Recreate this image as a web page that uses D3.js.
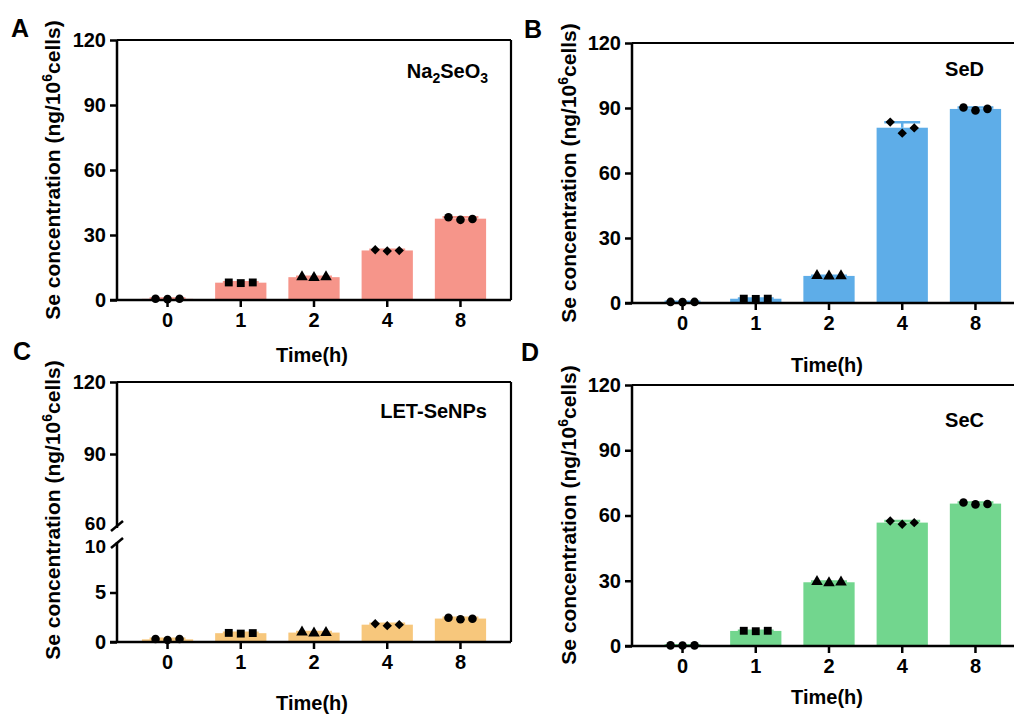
<!DOCTYPE html>
<html>
<head>
<meta charset="utf-8">
<script src="https://cdn.jsdelivr.net/npm/d3@7"></script>
<style>
  html, body { margin: 0; padding: 0; background: #fff; }
  svg { display: block; }
  text { font-family: "Liberation Sans", Arial, sans-serif; font-weight: bold; fill: #000; }
</style>
</head>
<body>
<svg id="chart" width="1014" height="714"></svg>
<script>
// ---------- DATA ----------
const categories = ["0", "1", "2", "4", "8"];
const markerShapes = ["circle", "square", "triangle", "diamond", "circle"];

// replicate values (ng/10^6 cells), three per time point
const na2seo3 = [[0.6, 0.4, 0.6], [8.1, 7.8, 8.1], [10.7, 10.3, 10.6], [23.2, 22.6, 22.8], [38.2, 37.0, 37.4]];
const seD     = [[0.5, 0.4, 0.5], [2.0, 1.9, 2.0], [12.6, 12.4, 12.5], [83.5, 78.4, 80.8], [90.2, 88.9, 89.6]];
const letSeNPs = [[0.3, 0.2, 0.3], [0.92, 0.85, 0.9], [1.0, 0.9, 0.95], [1.85, 1.65, 1.75], [2.45, 2.3, 2.35]];
const seC     = [[0.3, 0.2, 0.3], [7.0, 6.8, 7.0], [29.6, 29.0, 29.3], [57.5, 56.0, 56.7], [66.0, 65.1, 65.3]];

const yTicks = [0, 30, 60, 90, 120];
const yTicksLowC = [0, 5, 10];
const yTicksHighC = [60, 90, 120];

const xTitle = "Time(h)";

// ---------- LAYOUT ----------
const svg = d3.select("#chart");
const mean = a => d3.mean(a);
const sd = a => d3.deviation(a);

const panels = [
  { letter: "A", data: na2seo3, color: "#F6958A", x0: 117, y0: 300, yTop: 40,
    letterPos: [11, 37], titleY: 362, ytx: 53, yty: 170,
    ann: [{t: "Na"}, {t: "2", sub: true}, {t: "SeO"}, {t: "3", sub: true}], annX: 488, annY: 78 },
  { letter: "B", data: seD, color: "#5EADE8", x0: 632, y0: 303, yTop: 43,
    letterPos: [524, 38], titleY: 372, ytx: 569, yty: 173,
    ann: [{t: "SeD"}], annX: 984, annY: 76 },
  { letter: "C", data: letSeNPs, color: "#F7C77C", x0: 117, y0: 642, yTop: 382, broken: true,
    letterPos: [13, 360], titleY: 710, ytx: 53, yty: 510,
    ann: [{t: "LET-SeNPs"}], annX: 487, annY: 418 },
  { letter: "D", data: seC, color: "#72D68E", x0: 632, y0: 646, yTop: 385,
    letterPos: [521, 361], titleY: 704, ytx: 569, yty: 515,
    ann: [{t: "SeC"}], annX: 984, annY: 427 }
];

const plotW = 394;

const diamondType = {
  draw(ctx, size) {
    const r = Math.sqrt(size / 2);
    ctx.moveTo(0, -r); ctx.lineTo(r, 0); ctx.lineTo(0, r); ctx.lineTo(-r, 0); ctx.closePath();
  }
};

function symbolFor(name) {
  switch (name) {
    case "square": return d3.symbol().type(d3.symbolSquare).size(62);
    case "triangle": return d3.symbol().type(d3.symbolTriangle).size(58);
    case "diamond": return d3.symbol().type(diamondType).size(44);
    default: return d3.symbol().type(d3.symbolCircle).size(58);
  }
}

panels.forEach(p => {
  const g = svg.append("g");
  const x1 = p.x0 + plotW;

  const x = d3.scaleBand().domain(categories).range([p.x0, x1])
    .paddingInner(0.3).paddingOuter(0.34);

  let yVal;
  let yLow, yHigh;
  if (p.broken) {
    yLow = d3.scaleLinear().domain([0, 10]).range([p.y0, 543]);
    yHigh = d3.scaleLinear().domain([60, 120]).range([526, p.yTop]);
    yVal = v => v <= 10 ? yLow(v) : yHigh(v);
  } else {
    const y = d3.scaleLinear().domain([0, 120]).range([p.y0, p.yTop]);
    yVal = y;
    p.y = y;
  }

  // bars
  g.selectAll("rect.bar").data(p.data).join("rect")
    .attr("x", (d, i) => x(categories[i]))
    .attr("width", x.bandwidth())
    .attr("y", d => yVal(mean(d)))
    .attr("height", d => p.y0 - yVal(mean(d)))
    .attr("fill", p.color);

  // error bars (mean + SD), same colour as bar
  p.data.forEach((d, i) => {
    const cx = x(categories[i]) + x.bandwidth() / 2;
    const top = yVal(mean(d) + sd(d));
    const m = yVal(mean(d));
    g.append("line").attr("x1", cx).attr("x2", cx).attr("y1", m).attr("y2", top)
      .attr("stroke", p.color).attr("stroke-width", 2.5);
    g.append("line").attr("x1", cx - x.bandwidth() * 0.35).attr("x2", cx + x.bandwidth() * 0.35)
      .attr("y1", top).attr("y2", top).attr("stroke", p.color).attr("stroke-width", 2.5);
  });

  // frame (top and right)
  g.append("line").attr("x1", p.x0).attr("x2", x1).attr("y1", p.yTop).attr("y2", p.yTop)
    .attr("stroke", "#000").attr("stroke-width", 2.2);
  g.append("line").attr("x1", x1).attr("x2", x1).attr("y1", p.yTop).attr("y2", p.y0)
    .attr("stroke", "#000").attr("stroke-width", 2.2);

  // x axis
  const xAxis = g.append("g").attr("transform", `translate(0,${p.y0})`)
    .call(d3.axisBottom(x).tickSize(7).tickSizeOuter(0).tickPadding(6));
  xAxis.select(".domain").remove();
  xAxis.append("line").attr("x1", p.x0 - 7).attr("x2", x1).attr("stroke", "#000").attr("stroke-width", 2.5);
  xAxis.selectAll(".tick line").attr("stroke", "#000").attr("stroke-width", 2.5);
  xAxis.selectAll(".tick text").attr("font-size", 20).attr("font-family", "Liberation Sans, Arial, sans-serif")
    .attr("font-weight", "bold").attr("fill", "#000");

  // y axis
  function styleY(ax) {
    ax.select(".domain").remove();
    ax.selectAll(".tick line").attr("stroke", "#000").attr("stroke-width", 2.5);
    ax.selectAll(".tick text").attr("font-size", 20).attr("font-family", "Liberation Sans, Arial, sans-serif")
      .attr("font-weight", "bold").attr("fill", "#000");
  }
  if (p.broken) {
    const axL = g.append("g").attr("transform", `translate(${p.x0},0)`)
      .call(d3.axisLeft(yLow).tickValues(yTicksLowC).tickSize(7).tickPadding(4));
    styleY(axL);
    const t10 = axL.selectAll(".tick").filter(d => d === 10);
    t10.select("line").remove();
    t10.select("text").attr("dy", "0.32em").attr("y", 3).attr("font-size", 19);
    const axH = g.append("g").attr("transform", `translate(${p.x0},0)`)
      .call(d3.axisLeft(yHigh).tickValues(yTicksHighC).tickSize(7).tickPadding(4));
    styleY(axH);
    const t60 = axH.selectAll(".tick").filter(d => d === 60);
    t60.select("line").remove();
    t60.select("text").attr("y", -3).attr("font-size", 19);
    // axis segments
    g.append("line").attr("x1", p.x0).attr("x2", p.x0).attr("y1", p.y0 + 1).attr("y2", yLow(10) - 1)
      .attr("stroke", "#000").attr("stroke-width", 2.5);
    g.append("line").attr("x1", p.x0).attr("x2", p.x0).attr("y1", yHigh(60) + 2).attr("y2", p.yTop)
      .attr("stroke", "#000").attr("stroke-width", 2.5);
    // break slashes
    [yHigh(60), yLow(10)].forEach(yy => {
      g.append("line").attr("x1", p.x0 - 6).attr("x2", p.x0 + 6).attr("y1", yy + 5).attr("y2", yy - 5)
        .attr("stroke", "#000").attr("stroke-width", 2.5);
    });
  } else {
    const ax = g.append("g").attr("transform", `translate(${p.x0},0)`)
      .call(d3.axisLeft(p.y).tickValues(yTicks).tickSize(7).tickPadding(4));
    styleY(ax);
    g.append("line").attr("x1", p.x0).attr("x2", p.x0).attr("y1", p.y0 + 1).attr("y2", p.yTop)
      .attr("stroke", "#000").attr("stroke-width", 2.5);
  }

  // points
  const offsets = [-12, 0, 12];
  p.data.forEach((d, i) => {
    const cx = x(categories[i]) + x.bandwidth() / 2;
    const sym = symbolFor(markerShapes[i]);
    d.forEach((v, j) => {
      g.append("path").attr("d", sym())
        .attr("transform", `translate(${cx + offsets[j]},${yVal(v)})`)
        .attr("fill", "#000");
    });
  });

  // x title
  g.append("text").attr("x", p.x0 + plotW / 2 - 2).attr("y", p.titleY)
    .attr("text-anchor", "middle").attr("font-size", 20).text(xTitle);

  // y title
  const yt = g.append("text")
    .attr("transform", `translate(${p.ytx + 7},${p.yty}) rotate(-90)`)
    .attr("text-anchor", "middle").attr("font-size", 21);
  yt.append("tspan").text("Se concentration (ng/10");
  yt.append("tspan").attr("font-size", 14).attr("dy", -8).text("6");
  yt.append("tspan").attr("dy", 8).text("cells)");

  // panel letter
  g.append("text").attr("x", p.letterPos[0]).attr("y", p.letterPos[1])
    .attr("font-size", 25).text(p.letter);

  // annotation
  const at = g.append("text").attr("x", p.annX).attr("y", p.annY)
    .attr("text-anchor", "end").attr("font-size", 20);
  let shifted = false;
  p.ann.forEach(part => {
    const ts = at.append("tspan").text(part.t);
    if (part.sub) {
      ts.attr("font-size", 14).attr("dy", shifted ? 0 : 5);
      shifted = true;
    } else if (shifted) {
      ts.attr("dy", -5);
      shifted = false;
    }
  });
});
</script>
</body>
</html>
